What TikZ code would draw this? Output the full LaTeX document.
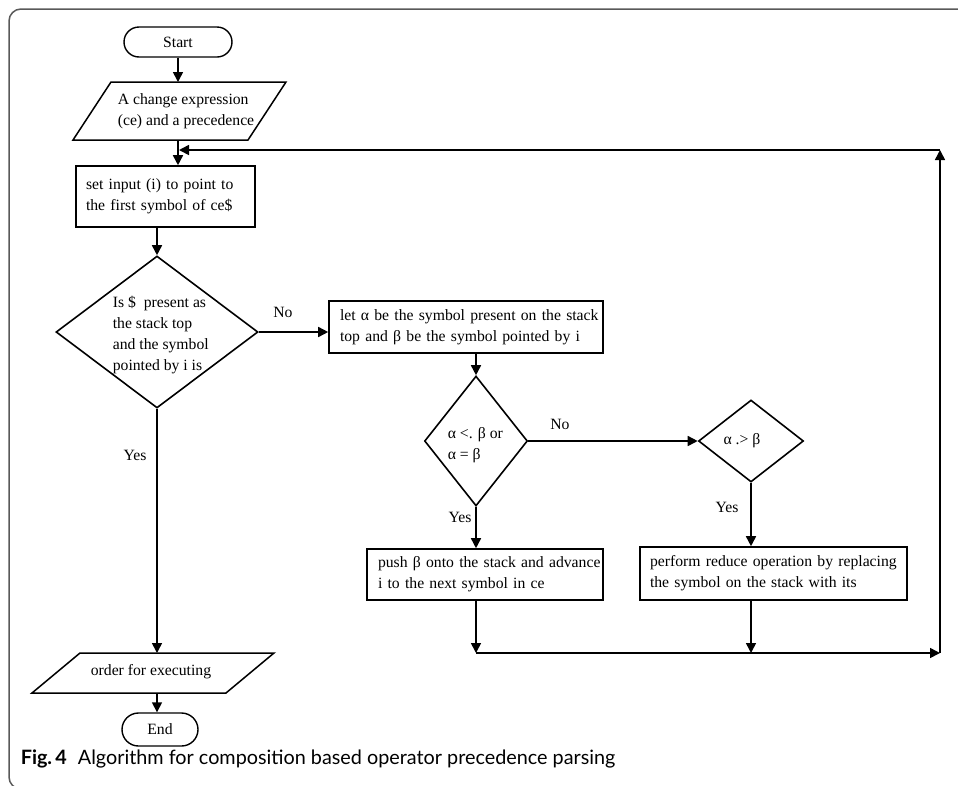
\documentclass[tikz,border=0pt]{standalone}
\usepackage{fontspec}
\setmainfont{Liberation Serif}
\newfontfamily\capfont{Lato}
\usetikzlibrary{shapes.geometric,shapes.misc,arrows.meta}
\begin{document}
\begin{tikzpicture}[x=1pt,y=-1pt,
  font=\fontsize{15.7}{21}\selectfont,
  line width=1.6pt,
  arr/.style={-{Triangle[length=10pt,width=10pt]}},
  boxnode/.style={draw, rectangle, inner ysep=0pt, align=left},
  term/.style={draw, rounded rectangle, inner sep=0pt, line width=1.4pt},
  dia/.style={draw, diamond, inner sep=0pt},
  lbl/.style={inner sep=0pt},
  para/.style={draw, line width=1.5pt},
  frame/.style={line width=1.5pt, draw=black!65, rounded corners=12pt}
]
\useasboundingbox (0,0) rectangle (958,785);
\begin{scope}
\clip (0,0) rectangle (958,785);
\draw[frame] (975,9) -- (9,9) -- (9,789) -- (975,789);
\end{scope}

% terminals
\node[term, minimum width=108pt, minimum height=30pt] (start) at (178,42) {Start};
\node[term, minimum width=76pt, minimum height=33pt] (end) at (160,729.5) {End};

% input parallelogram
\draw[para] (73,140) -- (111,82) -- (286,82) -- (248,140) -- cycle;
\node[lbl, anchor=west, align=left] (p1) at (117,111) {A change expression\\(ce) and a precedence};
\coordinate (p1n) at (178,82);
\coordinate (p1s) at (178,140);

% output parallelogram
\draw[para] (32,693) -- (80,653) -- (274,653) -- (226,693) -- cycle;
\node[lbl] (p2) at (151,672) {order for executing};
\coordinate (p2n) at (157,653);
\coordinate (p2s) at (157,693);

% boxes
\node[boxnode, minimum width=179pt, minimum height=61pt, text width=159pt, inner xsep=10pt] (r1) at (165.5,196.5) {\mbox{set input (i) to point to}\\\mbox{the first symbol of ce\$}};
\node[boxnode, minimum width=274pt, minimum height=52pt, text width=252pt, inner xsep=11pt] (r2) at (466,327) {\mbox{let α be the symbol present on the stack}\\\mbox{top and β be the symbol pointed by i}};
\node[boxnode, minimum width=236pt, minimum height=51pt, text width=214pt, inner xsep=11pt] (r3) at (485,574.5) {\mbox{push β onto the stack and advance}\\\mbox{i to the next symbol in ce}};
\node[boxnode, minimum width=267pt, minimum height=53pt, text width=247pt, inner xsep=10pt] (r4) at (773.5,573.5) {\mbox{perform reduce operation by replacing}\\\mbox{the symbol on the stack with its}};

% diamonds
\node[dia, minimum width=202pt, minimum height=152pt] (d1) at (157,332) {};
\node[lbl, anchor=west, align=left] (d1t) at (112,335.5) {Is \$\ \ present as\\the stack top\\and the symbol\\pointed by i is};
\node[dia, minimum width=103pt, minimum height=130pt] (d2) at (476,441) {};
\node[lbl, anchor=west, align=left] (d2t) at (447,445) {α <. β or\\α = β};
\node[dia, minimum width=105pt, minimum height=82pt] (d3) at (751,441) {};
\node[lbl] (d3t) at (742,441) {α .> β};

% labels
\node[lbl] (no1) at (283,312) {No};
\node[lbl] (yes1) at (135,455) {Yes};
\node[lbl] (no2) at (560,424) {No};
\node[lbl] (yes2) at (460,517) {Yes};
\node[lbl] (yes3) at (727,507) {Yes};

% loop coordinates
\coordinate (m1) at (476,653);
\coordinate (m2) at (751,653);
\coordinate (c1) at (940,653);
\coordinate (c2) at (940,150);
\coordinate (c3) at (179,150);

% connectors
\draw[arr] (start) -- (p1n);
\draw[arr] (p1s) -- (r1.north -| p1s);
\draw[arr] (r1.south -| d1.north) -- (d1.north);
\draw[arr] (d1.east) -- (d1.east -| r2.west);
\draw[arr] (r2.south -| d2.north) -- (d2.north);
\draw[arr] (d2.east) -- (d3.west);
\draw[arr] (d2.south) -- (d2.south |- r3.north);
\draw[arr] (d3.south) -- (d3.south |- r4.north);
\draw[arr] (r3.south -| d2.south) -- (m1);
\draw[arr] (r4.south -| d3.south) -- (m2);
\draw[arr] (m1) -- (c1);
\draw[arr] (c1) -- (c2);
\draw[arr] (c2) -- (c3);
\draw[arr] (d1.south) -- (p2n);
\draw[arr] (p2s) -- (end.north -| p2s);

% caption
\node[anchor=base west, inner sep=0pt] (cap) at (20,764) {\capfont\fontsize{19.8}{22}\selectfont\textbf{Fig.\,4}\hspace{11pt}Algorithm for composition based operator precedence parsing};
\end{tikzpicture}
\end{document}
